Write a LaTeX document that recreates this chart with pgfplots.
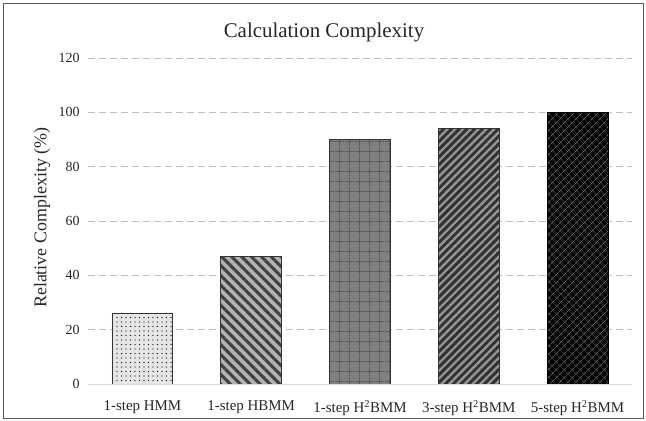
\documentclass[border=0pt]{standalone}
\usepackage{fontspec}
\setmainfont{Liberation Serif}
\usepackage{pgfplots}
\pgfplotsset{compat=1.18}
\usetikzlibrary{patterns.meta}

\definecolor{gridgray}{HTML}{BFBFBF}
\definecolor{axgray}{HTML}{D9D9D9}
\definecolor{framegray}{HTML}{595959}

\begin{document}
\begin{tikzpicture}
% outer frame of the figure
\path (-3bp,-3bp) rectangle (643bp,418bp);
\draw[framegray, line width=0.8bp] (0,0) rectangle (640bp,415bp);
\node[font=\fontsize{21}{24}\selectfont, text=black!85] at (321bp,385bp) {Calculation Complexity};

\begin{axis}[
    at={(85bp,34bp)}, anchor=south west,
    scale only axis,
    width=544bp, height=326bp,
    xmin=-0.5, xmax=4.5,
    ymin=0, ymax=120,
    ytick={0,20,...,120},
    xtick={0,1,2,3,4},
    xticklabels={1-step HMM, 1-step HBMM, 1-step H\textsuperscript{2}BMM, 3-step H\textsuperscript{2}BMM, 5-step H\textsuperscript{2}BMM},
    axis x line=bottom, axis y line=left,
    x axis line style={-, draw=axgray, line width=1bp},
    y axis line style={draw=none},
    major tick length=0pt,
    ymajorgrids,
    grid style={gridgray, line width=0.8bp, dash pattern=on 7bp off 4bp},
    /pgf/number format/assume math mode=true,
    yticklabel style={font=\fontsize{14}{16}\selectfont, text=black!85, xshift=-5bp},
    xticklabel style={font=\fontsize{15}{17}\selectfont, text=black!85, yshift=-13bp},
    ylabel={Relative Complexity (\%)},
    ylabel style={font=\fontsize{18}{21}\selectfont, text=black!85, at={(axis description cs:-0.0846,0.51)}, anchor=center},
    ybar, bar width=0.56, bar shift=0pt,
]
\addplot[draw=black!80, line width=0.8bp, fill=black!10,
    postaction={pattern={Dots[distance=4.5bp, radius=0.6bp]}, pattern color=black}]
    coordinates {(0,26)};
\addplot[draw=black!80, line width=0.8bp, fill=black!30,
    postaction={pattern={Lines[angle=-45, distance=7bp, line width=3bp]}, pattern color=black!75}]
    coordinates {(1,47)};
\addplot[draw=black!80, line width=0.8bp, fill=black!50,
    postaction={pattern={Hatch[angle=0, distance=10bp, line width=0.6bp]}, pattern color=black!70}]
    coordinates {(2,90)};
\addplot[draw=black!80, line width=0.8bp, fill=black!80,
    postaction={pattern={Lines[angle=45, distance=5.5bp, line width=2.2bp]}, pattern color=black!40}]
    coordinates {(3,94)};
\addplot[draw=black, line width=0.8bp, fill=black,
    postaction={pattern={Hatch[angle=45, distance=6bp, line width=0.6bp]}, pattern color=black!60}]
    coordinates {(4,100)};
\end{axis}
\end{tikzpicture}
\end{document}
